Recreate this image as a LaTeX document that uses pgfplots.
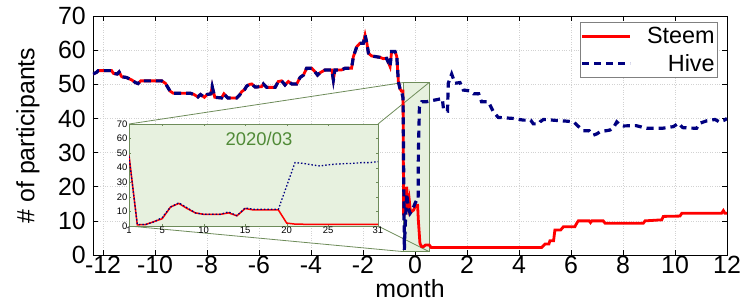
\documentclass[border=0pt]{standalone}
\usepackage{fontspec}
\setmainfont{Liberation Sans}
\usepackage{pgfplots}
\pgfplotsset{compat=1.18}
\definecolor{steem}{RGB}{255,0,0}
\definecolor{hive}{RGB}{0,0,128}
\definecolor{zfill}{RGB}{231,241,223}
\definecolor{zline}{RGB}{110,140,90}
\definecolor{ztext}{RGB}{80,138,55}
\begin{document}
\begin{tikzpicture}
\path[use as bounding box] (-93bp,-49bp) rectangle (649bp,255bp);
\begin{axis}[
  at={(0,0)}, anchor=south west, scale only axis,
  width=634bp, height=239bp,
  xmin=-12.385, xmax=12, ymin=0, ymax=70,
  xtick={-12,-10,...,12},
  xticklabels={-12,-10,-8,-6,-4,-2,0,2,4,6,8,10,12},
  ytick={0,10,...,70},
  yticklabels={0,10,20,30,40,50,60,70},
  tick label style={font=\fontsize{25}{25}\selectfont},
  xticklabel style={inner sep=1bp},
  yticklabel style={inner sep=2bp, xshift=-5bp},
  tick align=inside, major tick length=5bp,
  tick style={black, line width=0.6bp},
  grid=major,
  major grid style={dotted, gray!35, line width=0.5bp},
  axis line style={line width=0.9bp},
  xlabel={month}, ylabel={\# of participants},
  label style={font=\fontsize{25}{25}\selectfont},
  xlabel style={at={(axis description cs:0.5,0)}, anchor=center, yshift=-34bp},
  ylabel style={at={(axis description cs:-0.1025,0.5)}, anchor=center},
  legend style={at={(rel axis cs:0.9858,0.9749)}, anchor=north east,
    draw=gray, line width=0.6bp, font=\fontsize{23.5}{26}\selectfont,
    inner xsep=1bp, inner ysep=3bp, row sep=5bp, column sep=13bp,
    nodes={inner sep=2bp, font=\fontsize{23.5}{26}\selectfont}},
  legend cell align=right,
  legend image code/.code={\path (0bp,0bp) -- (12bp,0bp); \draw[#1] (12bp,0bp) -- (48bp,0bp);},
]
% zoom region and connectors
\fill[zfill] (axis cs:-0.46,1) rectangle (axis cs:0.54,50.5);
\draw[zline, line width=0.7bp] (axis cs:-0.46,1) rectangle (axis cs:0.54,50.5);
\draw[zline, line width=0.8bp] (axis cs:-11.0,38.37) -- (axis cs:-0.46,50.5);
\draw[zline, line width=0.8bp] (axis cs:-1.423,38.37) -- (axis cs:0.54,50.5);
\draw[zline, line width=0.8bp] (axis cs:-11.0,8.494) -- (axis cs:-0.46,1);
\draw[zline, line width=0.8bp] (axis cs:-1.423,8.494) -- (axis cs:0.54,1);

\addplot[steem, line width=2.8bp] coordinates {
(-12.385,53)(-12.25,53.5)(-12.18,54)(-11.67,54)(-11.6,53.2)(-11.45,53)(-11.38,53.6)(-11.28,52.2)(-11.1,52)(-10.9,51.3)(-10.75,50.5)(-10.65,50.2)(-10.55,51)(-9.74,51)(-9.6,50.3)(-9.5,49)(-9.42,48)(-9.3,47.4)(-8.65,47.4)(-8.5,47)(-8.35,46.3)(-8.25,47)(-8.1,46.2)(-8.0,47)(-7.85,47.2)(-7.8,49.3)(-7.7,46.2)(-7.44,46)(-7.35,47.2)(-7.2,46)(-6.86,46)(-6.75,46.8)(-6.67,47.8)(-6.55,48.5)(-6.47,49.5)(-6.35,50)(-6.28,50.1)(-6.15,49.2)(-5.9,49.3)(-5.83,50.1)(-5.7,49.1)(-5.38,49.1)(-5.26,50.8)(-5.13,51)(-5.0,49.8)(-4.87,50.8)(-4.74,50.1)(-4.55,50.1)(-4.42,52)(-4.29,52.7)(-4.17,54.7)(-3.97,54.7)(-3.85,53.7)(-3.75,52.7)(-3.65,53.4)(-3.46,54.2)(-3.2,54.2)(-3.14,51.3)(-3.08,54.2)(-2.82,54.2)(-2.69,54.7)(-2.44,54.7)(-2.37,58.1)(-2.24,61)(-2.12,62)(-1.99,62)(-1.92,64.4)(-1.85,62)(-1.79,59.1)(-1.67,58.3)(-1.35,57.9)(-1.22,57.5)(-1.09,57.6)(-0.96,55.2)(-0.9,59.6)(-0.77,59.6)(-0.7,58.1)(-0.64,50.8)(-0.58,48.8)(-0.52,48)
(-0.46,48)(-0.44,12)(-0.40,12)(-0.36,16)(-0.32,20)(-0.28,15)(-0.26,14)(-0.22,16)(-0.18,13)(-0.13,12.7)(-0.05,13.2)(0.02,14.6)(0.1,14.6)(0.13,10)(0.19,3.4)(0.26,2.4)(0.32,2.4)(0.4,2.9)(0.55,2.9)(0.62,2.2)
(4.87,2.2)(5.0,3.2)(5.15,3.2)(5.19,4.2)(5.33,4.2)(5.38,7.3)(5.6,7.3)(5.71,8.3)(6.15,8.3)(6.22,9.3)(6.28,10)(6.7,10)(6.75,9.5)(6.8,10)(7.24,10)(7.31,9.3)(8.78,9.3)(8.85,10)(9.49,10.3)(9.55,11.3)(10.19,11.4)(10.26,12.2)(11.79,12.2)(11.86,13)(11.92,12.2)(12,12.2)
};
\addlegendentry{Steem}
\addplot[hive, line width=3.2bp, dash pattern=on 7bp off 5bp] coordinates {
(-12.385,53)(-12.25,53.5)(-12.18,54)(-11.67,54)(-11.6,53.2)(-11.45,53)(-11.38,53.6)(-11.28,52.2)(-11.1,52)(-10.9,51.3)(-10.75,50.5)(-10.65,50.2)(-10.55,51)(-9.74,51)(-9.6,50.3)(-9.5,49)(-9.42,48)(-9.3,47.4)(-8.65,47.4)(-8.5,47)(-8.35,46.3)(-8.25,47)(-8.1,46.2)(-8.0,47)(-7.85,47.2)(-7.8,49.3)(-7.7,46.2)(-7.44,46)(-7.35,47.2)(-7.2,46)(-6.86,46)(-6.75,46.8)(-6.67,47.8)(-6.55,48.5)(-6.47,49.5)(-6.35,50)(-6.28,50.1)(-6.15,49.2)(-5.9,49.3)(-5.83,50.1)(-5.7,49.1)(-5.38,49.1)(-5.26,50.8)(-5.13,51)(-5.0,49.8)(-4.87,50.8)(-4.74,50.1)(-4.55,50.1)(-4.42,52)(-4.29,52.7)(-4.17,54.7)(-3.97,54.7)(-3.85,53.7)(-3.75,52.7)(-3.65,53.4)(-3.46,54.2)(-3.2,54.2)(-3.14,51.3)(-3.08,54.2)(-2.82,54.2)(-2.69,54.7)(-2.44,54.7)(-2.37,58.1)(-2.24,61)(-2.12,62)(-1.99,62)(-1.92,64.4)(-1.85,62)(-1.79,59.1)(-1.67,58.3)(-1.35,57.9)(-1.22,57.5)(-1.09,57.6)(-0.96,55.2)(-0.9,59.6)(-0.77,59.6)(-0.7,58.1)(-0.64,50.8)(-0.58,48.8)(-0.52,48)
(-0.46,46)(-0.41,1.5)(-0.38,8)(-0.32,18)(-0.26,14)(-0.19,12.2)(-0.1,13.2)(0,15.1)(0.06,16)(0.12,16)(0.13,29.8)(0.17,43.4)(0.26,44.9)(0.45,44.9)(0.9,45.6)
(1.05,45.8)(1.1,42.5)(1.25,42.2)(1.28,50.3)(1.41,53)(1.54,50.3)(1.73,50.5)(1.86,48.3)(2.1,48.1)(2.25,47.2)(2.45,47.2)(2.56,44.9)(2.82,44.9)(3.01,42)(3.2,40.3)(3.78,40)(4.17,39.5)(4.45,39.5)(4.55,38.4)(4.75,38.4)(4.81,39)(4.94,39.7)(5.83,39.2)(6.1,39)(6.22,38.1)(6.47,36.4)(6.7,36.4)(6.86,35.1)(7.0,35.5)(7.12,36.1)(7.5,36.6)(7.65,37.5)(7.76,39)(7.9,38)(8.01,37.8)(8.5,37.9)(8.91,37.1)(9.5,37.1)(9.94,37.6)(10.13,38.6)(10.3,37.3)(10.83,37.1)(10.96,38.6)(11.22,39.3)(11.54,39.7)(11.7,39)(11.9,39.5)(12,40)
};
\addlegendentry{Hive}
\end{axis}

\begin{axis}[
  at={(36bp,29bp)}, anchor=south west, scale only axis,
  width=249bp, height=102bp,
  xmin=1, xmax=31, ymin=0, ymax=70,
  xtick={1,5,10,15,20,25,31},
  xticklabels={1,5,10,15,20,25,31},
  ytick={0,10,...,70},
  yticklabels={0,10,20,30,40,50,60,70},
  tick label style={font=\fontsize{9.5}{10}\selectfont},
  xticklabel style={inner sep=1bp},
  yticklabel style={inner sep=1.5bp},
  axis background/.style={fill=zfill},
  axis line style={zline, line width=0.9bp},
  tick align=inside, major tick length=2bp,
  tick style={zline},
]
\addplot[steem, line width=1.5bp] coordinates {
(1,48.5)(2,0.8)(3,1)(4,3)(5,5)(6,13)(7,15.5)(8,12)(9,9)(10,8)(11,8)(12,8)(13,9)(14,7)(15,12)(16,11)(17,11)(18,11)(19,11)(20,2)(21,1.3)(22,1.2)(23,1.2)(24,1.2)(25,1.2)(26,1.2)(27,1.2)(28,1.2)(29,1.2)(30,1.2)(31,1.2)
};
\addplot[hive, line width=1.3bp, dash pattern=on 1.5bp off 2bp] coordinates {
(1,47.7)(2,1)(3,1)(4,2.8)(5,5.8)(6,13)(7,15.9)(8,12.5)(9,9)(10,8)(11,8)(12,8)(13,9.7)(14,7.1)(15,12.4)(16,11.5)(17,11.5)(18,11.5)(19,11.5)(21,43.5)(22,43)(23,42)(24,41.2)(25,42)(26,42.5)(27,42.8)(28,43)(29,43.5)(30,43.5)(31,44.2)
};
\node[text=ztext, font=\fontsize{18.5}{20}\selectfont] at (rel axis cs:0.522,0.853) {2020/03};
\end{axis}
\end{tikzpicture}
\end{document}
